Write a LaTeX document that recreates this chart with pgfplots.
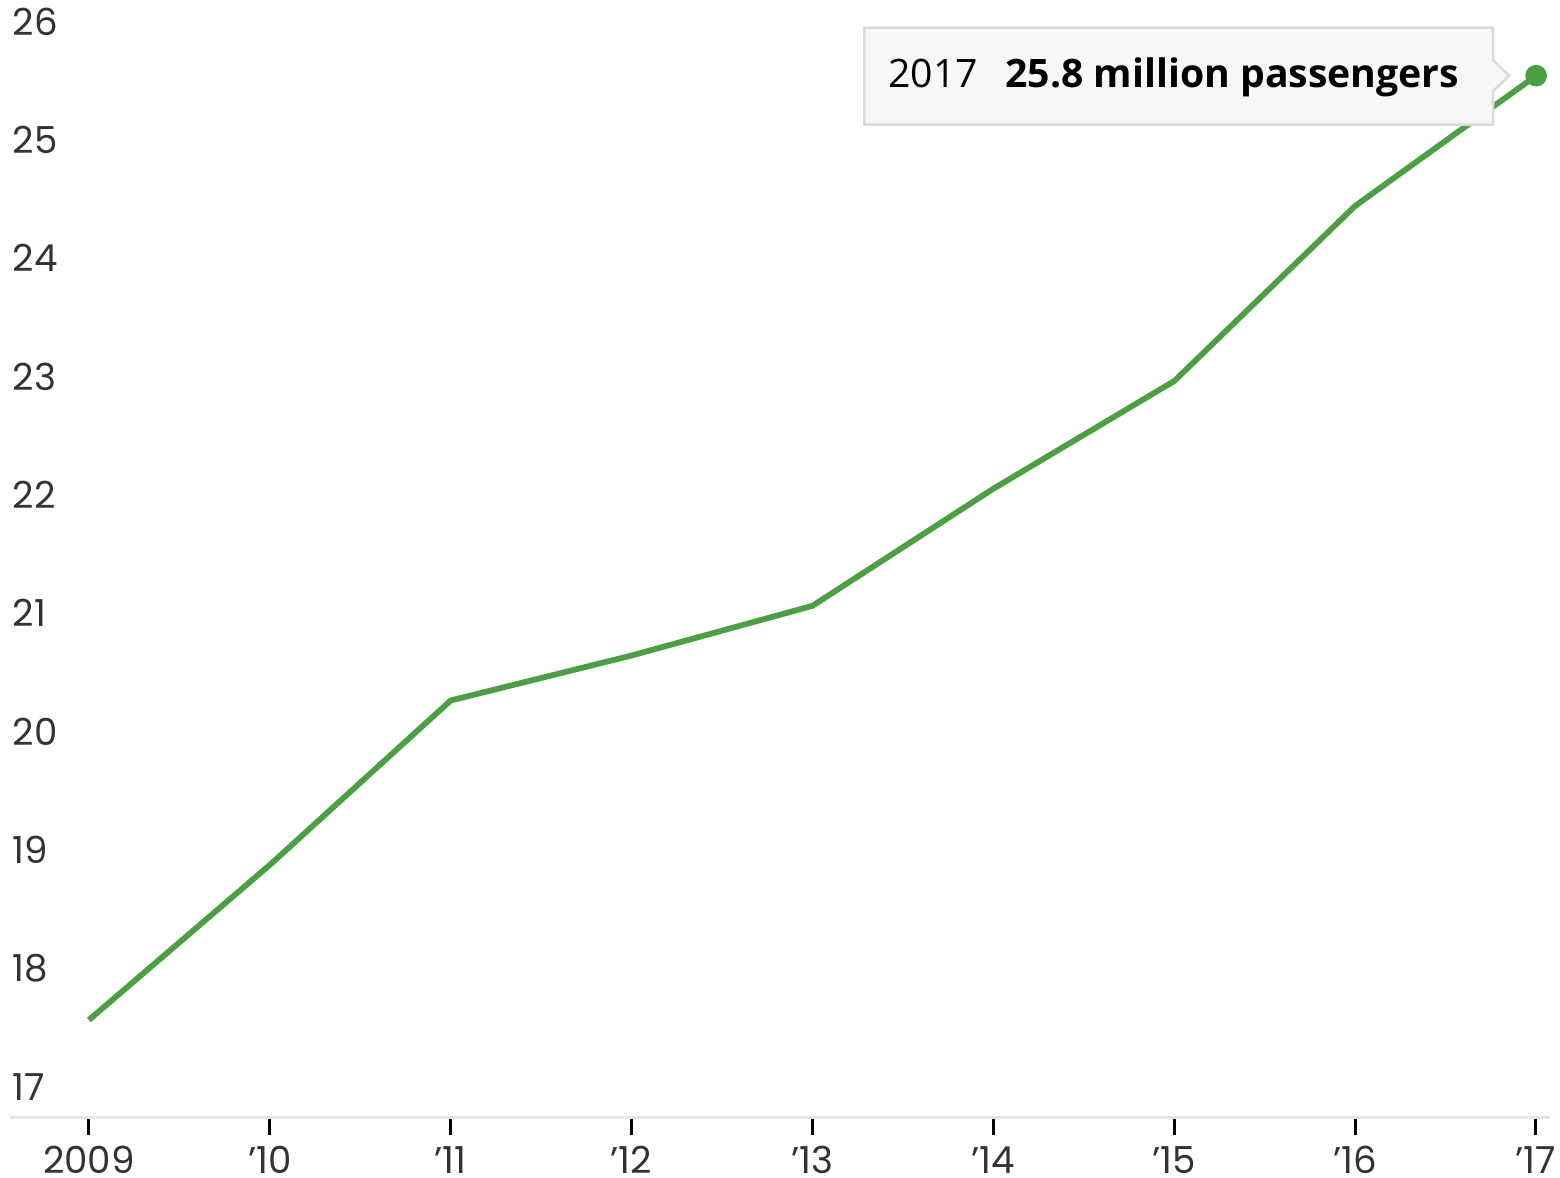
\documentclass[border=0pt]{standalone}
\usepackage{pgfplots}
\pgfplotsset{compat=1.18}
\usepackage{fontspec}
\setmainfont{Poppins}
\newfontfamily\tipfont{Open Sans}
\definecolor{linegreen}{HTML}{4C9F45}
\definecolor{gridgray}{HTML}{E6E6E6}
\definecolor{ticktext}{HTML}{333333}
\definecolor{tipfill}{HTML}{F7F7F7}
\definecolor{tipborder}{HTML}{DADADA}
\begin{document}
\begin{tikzpicture}
\useasboundingbox (0,0) rectangle (390pt,294.25pt);
\begin{axis}[
  at={(2.5pt,15pt)}, anchor=south west,
  scale only axis, width=385pt, height=266.25pt,
  xmin=2008.564, xmax=2017.077,
  ymin=17, ymax=26,
  clip=false,
  axis line style={draw=none},
  axis x line*=bottom,
  axis y line=none,
  ymajorgrids, grid style={gridgray, line width=0.75pt},
  ytick={17,...,26},
  xtick={2009,...,2017},
  xticklabels={2009,'10,'11,'12,'13,'14,'15,'16,'17},
  x tick label style={font=\fontsize{9.3}{10}\selectfont, text=ticktext, anchor=north, inner sep=0pt, text depth=0pt, yshift=-2.6pt},
  major tick length=4.5pt,
  tick style={black, line width=0.75pt},
  xtick pos=bottom, tick align=outside,
  ytick style={draw=none},
  /pgf/number format/assume math mode=true,
]
\draw[gridgray, line width=0.75pt] (axis cs:2008.564,17) -- (axis cs:2017.077,17);
\foreach \v in {17,...,26} {
  \edef\tmp{\noexpand\node[anchor=south west, inner sep=0pt, font=\noexpand\fontsize{9.3}{10}\noexpand\selectfont, text=ticktext] at (axis cs:2008.575,\v) [yshift=4pt] {\v};}
  \tmp
}
\addplot[linegreen, line width=1.45pt, line join=round] coordinates {
(2009,17.82) (2010,19.13) (2011,20.52) (2012,20.90) (2013,21.32)
(2014,22.31) (2015,23.22) (2016,24.70) (2017,25.80)};
\addplot[only marks, mark=*, mark size=2.5pt, linegreen] coordinates {(2017,25.80)};
\draw[tipborder, fill=tipfill, line width=0.6pt]
  (axis cs:2013.287,26.206) -- (axis cs:2016.762,26.206) -- (axis cs:2016.762,25.93)
  -- (axis cs:2016.851,25.80) -- (axis cs:2016.762,25.67) -- (axis cs:2016.762,25.387)
  -- (axis cs:2013.287,25.387) -- cycle;
\node[anchor=west, inner sep=0pt, font=\tipfont\fontsize{9.8}{11}\selectfont, text=black] at (axis cs:2013.414,25.79) {2017\hspace{0.7em}\textbf{25.8 million passengers}};
\end{axis}
\end{tikzpicture}
\end{document}
